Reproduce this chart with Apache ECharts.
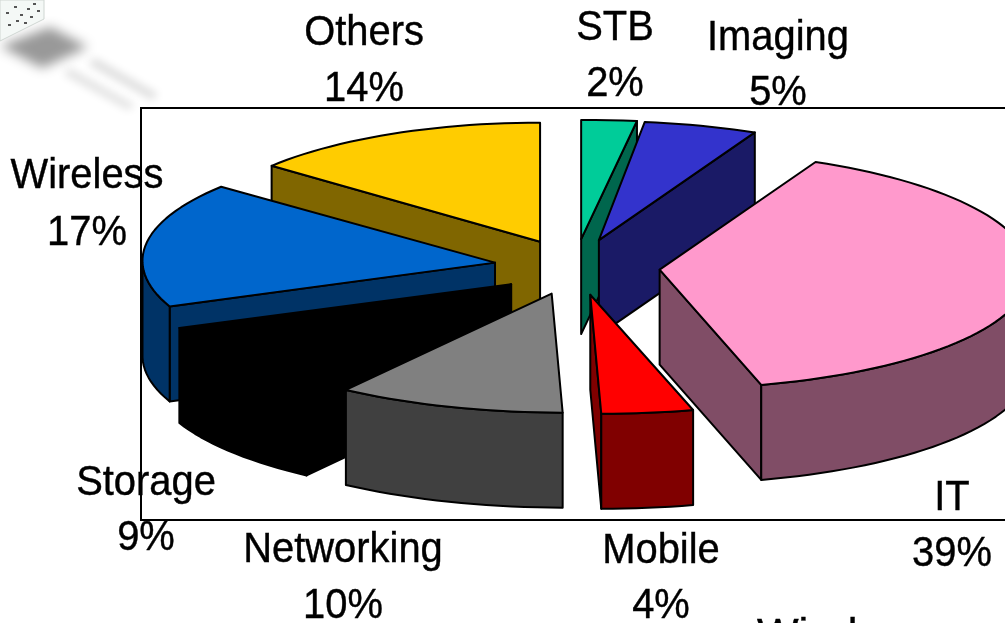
<!DOCTYPE html>
<html>
<head>
<meta charset="utf-8">
<title>pie</title>
<style>
html, body { margin: 0; padding: 0; background: #fff; overflow: hidden; }
#my_chart { width: 1005px; height: 623px; }
</style>
<script src="https://cdn.jsdelivr.net/npm/echarts@6/dist/echarts.min.js"></script>
</head>
<body>
<div id="my_chart"></div>
<script>
// clockwise from the top of the pie
var categories = ['STB', 'Imaging', 'IT', 'Mobile', 'Networking', 'Storage', 'Wireless', 'Others'];
var shares = [2, 5, 39, 4, 10, 9, 17, 14];

var topColors = ['#00CC99', '#3333CC', '#FF99CC', '#FF0000', '#808080', '#000000', '#0066CC', '#FFCC00'];
var sideColors = ['#00664D', '#1A1A66', '#804D66', '#800000', '#404040', '#000000', '#003366', '#806600'];

// label centre and baselines, name then percent
var labelX = [615, 778, 952, 661, 343, 146, 87, 364];
var nameBase = [40, 50, 510, 563, 562, 495, 188, 45];
var pctBase = [96, 105, 566, 618, 618, 550, 245, 101];

// horizontal radius of each slice, the perspective of the old picture is not even
var rimX = [445, 365, 365, 370, 367, 365, 358, 351];
var nudgeX = [0, 0, 2, 4, 1, 0, 0, -1];

var cx = 576, cy = 267;
var ry = 119;
var skew = 5.5;
var explodeX = 82, explodeY = 28;
var depth = 95;
var rad = Math.PI / 180;
var textDrop = 33; // top of the text box to its baseline

var total = 0;
var angles = [];
for (var s = 0; s < shares.length; s++) {
    angles.push(total / 100 * 360);
    total += shares[s];
}
angles.push(360);

function sliceGeom(i) {
    var a0 = angles[i], a1 = angles[i + 1], mid = (a0 + a1) / 2;
    var apex = [cx + nudgeX[i] + explodeX * Math.sin(mid * rad), cy - explodeY * Math.cos(mid * rad)];
    function pt(a) {
        var sn = Math.sin(a * rad), cs = Math.cos(a * rad);
        return [apex[0] + rimX[i] * sn + skew * (1 - cs), apex[1] - ry * cs];
    }
    return {a0: a0, a1: a1, mid: mid, apex: apex, pt: pt};
}

function arcPoints(g, from, to) {
    var pts = [];
    var n = Math.max(2, Math.ceil((to - from) / 2));
    for (var k = 0; k <= n; k++) {
        pts.push(g.pt(from + (to - from) * k / n));
    }
    return pts;
}

function down(pts) {
    return pts.map(function (p) {
        return [p[0], p[1] + depth];
    }).reverse();
}

function poly(pts, fill) {
    return {
        type: 'polygon',
        shape: {points: pts},
        style: {fill: fill, stroke: '#000', lineWidth: 2, lineJoin: 'round'}
    };
}

// a cut face shows only when the slice body lies above its top edge
function faceVisible(g, outer) {
    var ex = outer[0] - g.apex[0], ey = outer[1] - g.apex[1];
    if (ex < 0) {
        ex = -ex;
        ey = -ey;
    }
    var m = g.pt(g.mid);
    var mx = (m[0] - g.apex[0]) / 2, my = (m[1] - g.apex[1]) / 2;
    return ex * my - ey * mx < 0;
}

function renderSlice(params, api) {
    var i = api.value(0);
    var g = sliceGeom(i);
    var side = sideColors[i];
    var children = [];
    [g.pt(g.a0), g.pt(g.a1)].forEach(function (outer) {
        if (faceVisible(g, outer)) {
            var edge = [g.apex, outer];
            children.push(poly(edge.concat(down(edge)), side));
        }
    });
    var from = Math.max(g.a0, 90), to = Math.min(g.a1, 270);
    if (to > from) {
        var rim = arcPoints(g, from, to);
        children.push(poly(rim.concat(down(rim)), side));
    }
    children.push(poly([g.apex].concat(arcPoints(g, g.a0, g.a1)), topColors[i]));
    return {type: 'group', children: children};
}

function labelText(text, x, base) {
    return {
        type: 'text',
        x: x,
        y: base - textDrop,
        scaleX: 0.95,
        style: {
            text: text,
            fill: '#000',
            stroke: '#000',
            lineWidth: 0.4,
            font: '42px "Liberation Sans"',
            align: 'center',
            verticalAlign: 'top'
        }
    };
}

function renderLabel(params, api) {
    var i = api.value(0);
    return {
        type: 'group',
        children: [
            labelText(categories[i], labelX[i], nameBase[i]),
            labelText(shares[i] + '%', labelX[i], pctBase[i])
        ]
    };
}

// back slices first so the nearer ones cover them
var drawOrder = categories.map(function (c, i) {
    return i;
}).sort(function (a, b) {
    return Math.cos(sliceGeom(b).mid * rad) < Math.cos(sliceGeom(a).mid * rad) ? -1 : 1;
});

// the printed specks on the chip clipped in the top corner
var chipSpecks = [[6, 12], [14, 6], [20, 14], [27, 8], [33, 3], [30, 16], [37, 10], [16, 20], [24, 22], [8, 24]];

var decor = [
    {type: 'polygon', silent: true, shape: {points: [[-2000, 46], [-1950, 27], [-1912, 47], [-1958, 68]]},
        style: {fill: '#999', shadowColor: '#999', shadowBlur: 12, shadowOffsetX: 2000}},
    {type: 'polygon', silent: true, shape: {points: [[-1905, 58], [-1842, 94], [-1848, 100], [-1912, 64]]},
        style: {fill: '#ddd', shadowColor: '#ddd', shadowBlur: 8, shadowOffsetX: 2000}},
    {type: 'polygon', silent: true, shape: {points: [[-1930, 68], [-1865, 105], [-1872, 110], [-1937, 74]]},
        style: {fill: '#e2e2e2', shadowColor: '#e2e2e2', shadowBlur: 8, shadowOffsetX: 2000}},
    {type: 'polygon', silent: true, shape: {points: [[0, 0], [44, 0], [44, 19], [0, 41]]},
        style: {fill: '#f4f8f6', stroke: '#cfd6d2', lineWidth: 1}}
];
chipSpecks.forEach(function (p) {
    decor.push({type: 'rect', silent: true, shape: {x: p[0], y: p[1], width: 3, height: 2}, style: {fill: '#555'}});
});
decor.push({type: 'rect', silent: true, shape: {x: 141, y: 108, width: 900, height: 412},
    style: {fill: '#fff', stroke: '#000', lineWidth: 2}});
// stray caption cut off by the lower edge of the slide
decor.push({type: 'text', silent: true, z: 10, x: 757, y: 648 - textDrop, scaleX: 1.05,
    style: {text: 'Wind', fill: '#000', stroke: '#000', lineWidth: 0.4, font: '42px "Liberation Sans"', align: 'left', verticalAlign: 'top'}});

var option = {
    backgroundColor: '#fff',
    animation: false,
    graphic: decor,
    series: [
        {
            type: 'custom',
            coordinateSystem: 'none',
            silent: true,
            z: 3,
            renderItem: renderSlice,
            data: drawOrder.map(function (i) {
                return [i];
            })
        },
        {
            type: 'custom',
            coordinateSystem: 'none',
            silent: true,
            z: 5,
            renderItem: renderLabel,
            data: categories.map(function (c, i) {
                return [i];
            })
        }
    ]
};

var myChart = echarts.init(document.getElementById('my_chart'));
myChart.setOption(option);
</script>
</body>
</html>
